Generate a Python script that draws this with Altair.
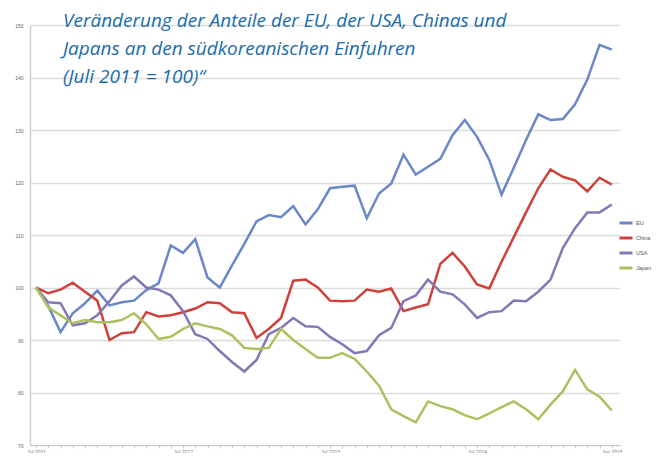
import altair as alt
import pandas as pd

series = ["EU", "China", "USA", "Japan"]
colors = ["#6a87c8", "#d0403a", "#8577b5", "#a9c25f"]

eu = [100, 96.5, 91.5, 95.1, 97.0, 99.4, 96.6, 97.2, 97.5, 99.5, 100.8, 108.0,
      106.6, 109.2, 101.9, 100.0, 104.2, 108.3, 112.6, 113.8, 113.4, 115.5, 112.0, 114.9,
      118.9, 119.2, 119.4, 113.2, 117.9, 119.8, 125.3, 121.5, 123.0, 124.5, 129.0, 131.9,
      128.7, 124.3, 117.7, 122.8, 128.1, 133.0, 131.9, 132.1, 134.9, 139.6, 146.2, 145.3]
china = [100, 98.9, 99.6, 100.9, 99.2, 97.5, 90.0, 91.3, 91.5, 95.3, 94.5, 94.7,
         95.3, 96.0, 97.2, 97.0, 95.3, 95.1, 90.4, 92.1, 94.2, 101.3, 101.5, 100.0,
         97.5, 97.4, 97.5, 99.6, 99.2, 99.8, 95.5, 96.2, 96.8, 104.5, 106.6, 104.0,
         100.6, 99.8, 104.9, 109.6, 114.3, 118.9, 122.5, 121.1, 120.4, 118.3, 120.9, 119.6]
usa = [100, 97.2, 97.0, 92.8, 93.2, 94.7, 97.4, 100.4, 102.1, 100.0, 99.6, 98.5,
       95.5, 91.1, 90.2, 87.9, 85.8, 84.0, 86.2, 91.1, 92.3, 94.2, 92.6, 92.5,
       90.6, 89.2, 87.5, 87.9, 90.9, 92.3, 97.4, 98.5, 101.5, 99.2, 98.7, 96.8,
       94.2, 95.3, 95.5, 97.5, 97.4, 99.2, 101.5, 107.5, 111.3, 114.3, 114.3, 115.8]
japan = [100, 96.2, 94.7, 93.2, 93.8, 93.4, 93.4, 93.8, 95.1, 93.0, 90.2, 90.6,
         92.1, 93.2, 92.6, 92.1, 90.9, 88.5, 88.3, 88.5, 92.1, 90.0, 88.3, 86.6,
         86.6, 87.5, 86.4, 84.0, 81.3, 76.8, 75.5, 74.3, 78.3, 77.4, 76.8, 75.7,
         74.9, 76.0, 77.2, 78.3, 76.8, 74.9, 77.7, 80.2, 84.3, 80.6, 79.2, 76.6]

tick_pos = [0, 12, 24, 36, 47]
tick_labels = ["Jul 2011", "Jul 2012", "Jul 2013", "Jul 2014", "Jun 2015"]
y_ticks = [70, 80, 90, 100, 110, 120, 130, 140, 150]
title_lines = [
    "Veränderung der Anteile der EU, der USA, Chinas und",
    "Japans an den südkoreanischen Einfuhren",
    "(Juli 2011 = 100)“",
]

rows = []
for name, vals in zip(series, [eu, china, usa, japan]):
    for i, v in enumerate(vals):
        rows.append({"month": i, "series": name, "value": v})
df = pd.DataFrame(rows)

label_expr = " : ".join(
    f"datum.value == {p} ? '{l}'" for p, l in zip(tick_pos, tick_labels)
) + " : ''"

chart = (
    alt.Chart(df)
    .mark_line(strokeWidth=2.5, strokeJoin="miter")
    .encode(
        x=alt.X(
            "month:Q",
            scale=alt.Scale(domain=[-0.49, 47.67], nice=False, zero=False),
            axis=alt.Axis(
                title=None,
                values=list(range(48)),
                labelExpr=label_expr,
                grid=False,
                tickSize=3,
                tickColor="#c8c8c8",
                domainColor="#c8c8c8",
                labelFontSize=5,
                labelColor="#777777",
                labelOverlap=False,
                labelPadding=1,
            ),
        ),
        y=alt.Y(
            "value:Q",
            scale=alt.Scale(domain=[70, 150], nice=False, zero=False),
            axis=alt.Axis(
                title=None,
                values=y_ticks,
                grid=True,
                gridColor="#dcdcdc",
                gridWidth=1.5,
                domainColor="#d0d0d0",
                domainWidth=1.5,
                ticks=False,
                labelFontSize=5,
                labelColor="#666666",
                labelPadding=7,
            ),
        ),
        color=alt.Color(
            "series:N",
            scale=alt.Scale(domain=series, range=colors),
            legend=alt.Legend(
                title=None,
                orient="none",
                legendX=588,
                legendY=190,
                symbolType="stroke",
                symbolSize=169,
                symbolStrokeWidth=3,
                labelFontSize=5.5,
                labelOffset=2,
                labelColor="#555555",
                rowPadding=1,
            ),
        ),
    )
    .properties(
        width=590,
        height=420,
        autosize=alt.AutoSizeParams(type="none"),
        padding={"left": 22, "top": 17, "right": 35, "bottom": 8},
        title=alt.TitleParams(
            text=title_lines,
            anchor="start",
            frame="group",
            orient="top",
            baseline="top",
            offset=0,
            dx=33,
            dy=64,
            font="Open Sans",
            fontStyle="italic",
            fontWeight="normal",
            fontSize=19,
            lineHeight=28,
            color="#1b6cab",
        ),
    )
    .configure_view(stroke=None)
)

chart.save("out.html", embed_options={"renderer": "svg", "actions": False})
